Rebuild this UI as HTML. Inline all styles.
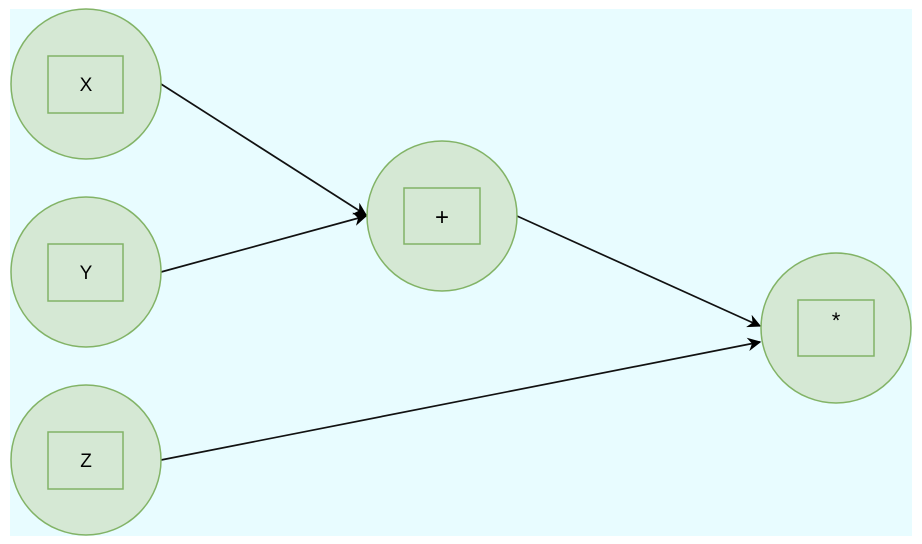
<!DOCTYPE html>
<html><head><style>
html,body{margin:0;padding:0;background:#fff;}
</style></head><body>
<svg width="922" height="544" xmlns="http://www.w3.org/2000/svg" style="display:block">
<defs><marker id="a" viewBox="0 0 10 10" refX="9" refY="5" markerWidth="8" markerHeight="8" orient="auto"><path d="M0,0 L10,5 L0,10 L3,5 Z" fill="#000"/></marker></defs>
<rect x="10" y="9" width="902" height="527" fill="#e8fcff"/>
<g stroke="#111" stroke-width="1.7" fill="none" marker-end="url(#a)">
<line x1="161" y1="84" x2="366" y2="215"/>
<line x1="161" y1="272" x2="366" y2="216"/>
<line x1="517" y1="216" x2="760" y2="326"/>
<line x1="161" y1="460" x2="760" y2="342"/>
</g>
<g fill="#d5e8d4" stroke="#82b366" stroke-width="1.5">
<circle cx="86" cy="84" r="75"/><circle cx="86" cy="272" r="75"/><circle cx="86" cy="460" r="75"/>
<circle cx="442" cy="216" r="75"/><circle cx="836" cy="328" r="75"/>
</g>
<g fill="none" stroke="#82b366" stroke-width="1.5">
<rect x="48" y="56" width="75" height="57"/><rect x="48" y="244" width="75" height="57"/><rect x="48" y="432" width="75" height="57"/>
<rect x="404" y="188" width="76" height="56"/><rect x="798" y="300" width="76" height="56"/>
</g>
<g font-family="Liberation Sans, sans-serif" font-size="19" text-anchor="middle" fill="#000">
<text x="86" y="91">X</text><text x="86" y="279">Y</text><text x="86" y="467">Z</text>
<text x="442" y="225" font-size="24">+</text><text x="836" y="328" font-size="22">*</text>
</g>
</svg>
</body></html>
